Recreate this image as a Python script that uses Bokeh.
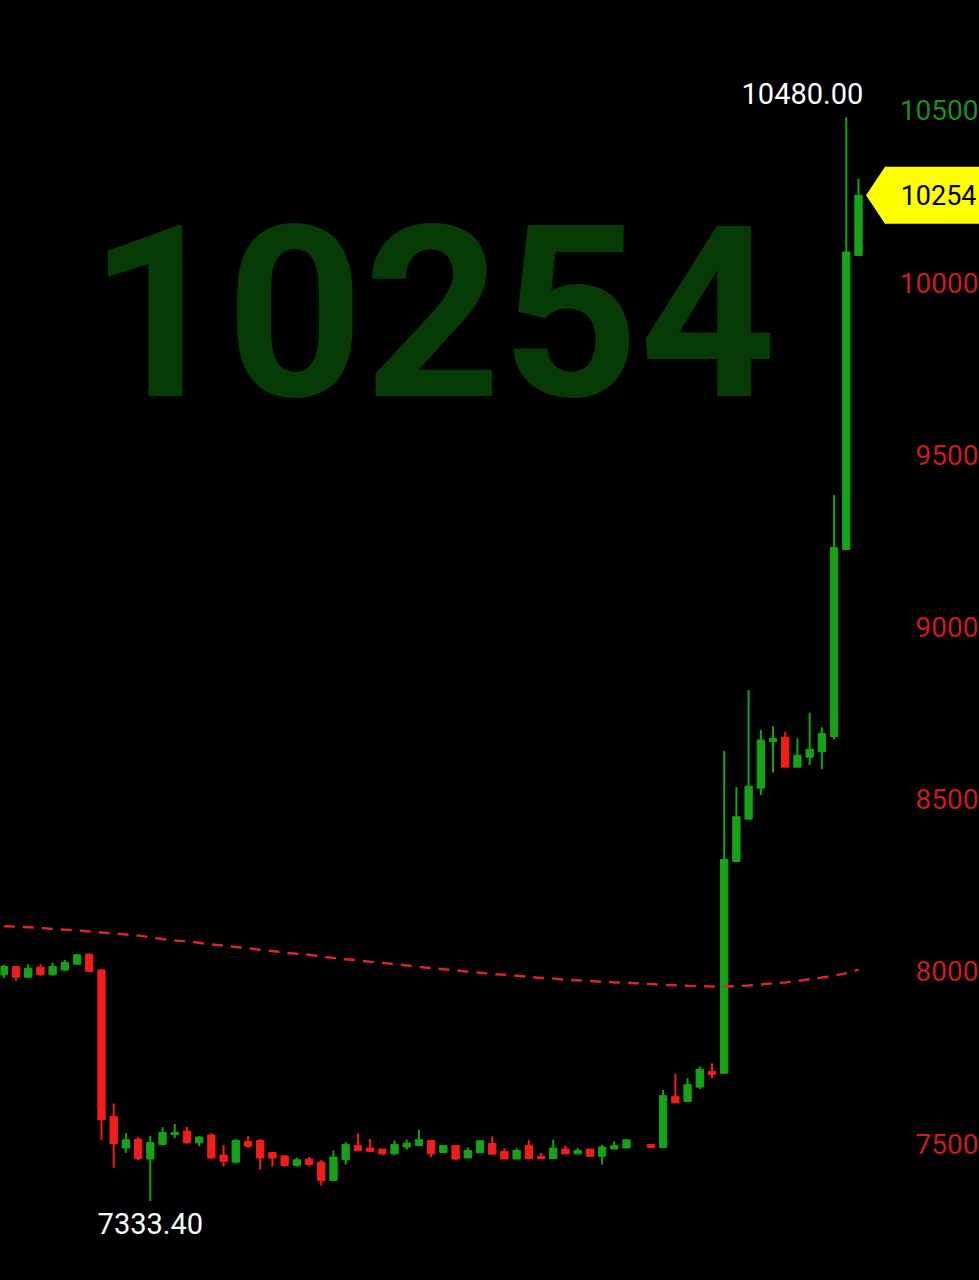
import numpy as np
from bokeh.plotting import figure
from bokeh.models import Range1d, ColumnDataSource
from bokeh.core.properties import value
from bokeh.embed import file_html
from bokeh.resources import INLINE

# ---------------- data ----------------
idx = list(range(52)) + list(range(53, 71))

opens = [7990, 8014, 7983, 8012, 7990, 8004, 8021, 8050, 8004, 7579,
         7487, 7513, 7455, 7497, 7526, 7536, 7502, 7525, 7467, 7446,
         7506, 7509, 7474, 7464, 7436, 7455, 7446, 7393, 7453, 7494,
         7487, 7484, 7470, 7490, 7494, 7509, 7474, 7494, 7458, 7473,
         7500, 7477, 7455, 7494, 7463, 7456, 7484, 7470, 7484, 7463,
         7484, 7487,
         7497, 7488, 7637, 7622, 7664, 7709, 7704, 8319, 8442, 8532,
         8667, 8680, 8593, 8622, 8638, 8682, 9225, 10079]
highs = [8019, 8015, 8021, 8021, 8026, 8033, 8050, 8052, 8006, 7616,
         7531, 7518, 7523, 7547, 7557, 7548, 7521, 7530, 7496, 7513,
         7521, 7513, 7476, 7466, 7459, 7461, 7452, 7480, 7504, 7530,
         7513, 7484, 7509, 7511, 7540, 7509, 7494, 7494, 7489, 7510,
         7521, 7486, 7486, 7511, 7473, 7511, 7494, 7487, 7484, 7496,
         7506, 7513,
         7497, 7656, 7702, 7690, 7724, 7733, 8641, 8535, 8817, 8701,
         8712, 8696, 8677, 8751, 8709, 9383, 10480, 10302]
lows = [7981, 7973, 7983, 7988, 7988, 8002, 8019, 7998, 7511, 7430,
        7473, 7452, 7333.4, 7495, 7516, 7500, 7492, 7455, 7433, 7443,
        7488, 7424, 7433, 7433, 7433, 7436, 7378, 7393, 7439, 7480,
        7477, 7467, 7468, 7482, 7494, 7461, 7474, 7453, 7458, 7473,
        7469, 7455, 7455, 7456, 7456, 7456, 7470, 7470, 7463, 7439,
        7484, 7487,
        7488, 7488, 7618, 7622, 7658, 7690, 7704, 8319, 8442, 8512,
        8577, 8593, 8593, 8599, 8587, 8674, 9223, 10079]
closes = [8014, 7983, 8009, 7990, 8014, 8026, 8048, 8000, 7569, 7500,
          7511, 7456, 7503, 7532, 7532, 7502, 7519, 7458, 7448, 7509,
          7492, 7458, 7458, 7436, 7453, 7439, 7392, 7461, 7497, 7480,
          7477, 7470, 7497, 7501, 7511, 7470, 7494, 7455, 7480, 7508,
          7469, 7455, 7480, 7456, 7456, 7487, 7470, 7480, 7463, 7490,
          7494, 7511,
          7488, 7639, 7618, 7671, 7716, 7700, 8325, 8449, 8538, 8672,
          8677, 8593, 8628, 8645, 8691, 9231, 10089, 10254]

ma_idx = list(range(71))
ma = [8131, 8130, 8128, 8126, 8123, 8121, 8119, 8116, 8113, 8110,
      8107, 8104, 8099, 8094, 8090, 8087, 8083, 8078, 8075, 8071,
      8067, 8063, 8059, 8054, 8051, 8048, 8043, 8039, 8035, 8032,
      8028, 8025, 8021, 8017, 8013, 8010, 8006, 8003, 7999, 7996,
      7992, 7990, 7987, 7984, 7981, 7979, 7976, 7974, 7972, 7970,
      7968, 7967, 7965, 7963, 7961, 7960, 7958, 7957, 7956, 7956,
      7957, 7959, 7962, 7965, 7968, 7972, 7977, 7982, 7987, 7995,
      8005]

y_ticks = [7500, 8000, 8500, 9000, 9500, 10000, 10500]

# ---------------- styling ----------------
UP = "#17a317"
DOWN = "#f51c1c"
AX_UP = "#1e8c1e"
AX_DOWN = "#c81e1e"
FONT = "Roboto"
X0, X1 = -0.27, 79.91
Y0, Y1 = 7102.3, 10819.4

up = [c >= o for o, c in zip(opens, closes)]
colors = [UP if u else DOWN for u in up]
tops = [max(o, c) for o, c in zip(opens, closes)]
bottoms = [min(o, c) for o, c in zip(opens, closes)]
last = closes[-1]

p = figure(width=979, height=1280,
           x_range=Range1d(start=X0, end=X1), y_range=Range1d(start=Y0, end=Y1),
           toolbar_location=None, output_backend="svg",
           min_border=0, background_fill_color="black",
           border_fill_color="black", outline_line_color=None)
p.xaxis.visible = False
p.yaxis.visible = False
p.xgrid.visible = False
p.ygrid.visible = False

src = ColumnDataSource(dict(x=idx, o=opens, h=highs, l=lows, c=closes,
                            top=tops, bottom=bottoms, color=colors))
p.segment(x0="x", y0="l", x1="x", y1="h", source=src, line_color="color", line_width=2)
p.vbar(x="x", width=0.6, top="top", bottom="bottom", source=src,
       fill_color="color", line_color="color", line_width=1)

p.line(ma_idx, ma, line_color="#d8262a", line_width=2.5, line_dash="11 8")

# last price tag
p.scatter(x=[idx[-1] + 2.2], y=[last], marker="diamond", size=58,
          fill_color="#ffff00", line_color=None)
p.rect(x=[idx[-1] + 6.3], y=[last], width=100, height=57,
       width_units="screen", height_units="screen",
       fill_color="#ffff00", line_color=None)

# high / low annotations
hi_i = int(np.argmax(highs))
lo_i = int(np.argmin(lows))
p.text(x=[idx[hi_i]], y=[highs[hi_i]], text=[f"{highs[hi_i]:.2f}"],
       text_color="white", text_font=value(FONT), text_font_size="29px",
       text_align="right", text_baseline="middle", x_offset=17, y_offset=-24)
p.text(x=[idx[lo_i]], y=[lows[lo_i]], text=[f"{lows[lo_i]:.2f}"],
       text_color="white", text_font=value(FONT), text_font_size="29px",
       text_align="center", text_baseline="middle", x_offset=0, y_offset=23)

# price axis labels (green above last price, red below)
p.text(x=[X1] * len(y_ticks), y=y_ticks, text=[str(t) for t in y_ticks],
       text_color=[AX_UP if t > last else AX_DOWN for t in y_ticks],
       text_font=value(FONT), text_font_size="28px",
       text_align="right", text_baseline="middle", x_offset=-1)

p.text(x=[X1], y=[last], text=[f"{last:.0f}"], text_color="black",
       text_font=value(FONT), text_font_size="27px",
       text_align="right", text_baseline="middle", x_offset=-3)

# watermark with last price
p.text(x=[X0 + 0.4413 * (X1 - X0)], y=[Y1 - 0.2422 * (Y1 - Y0)], text=[f"{last:.0f}"],
       text_font=value(FONT), text_font_style="bold",
       text_font_size="240px", text_color="#063b06",
       text_align="center", text_baseline="middle")

html = file_html(p, INLINE).replace("<body>", '<body style="background-color:#000">')
open("out.html", "w").write(html)
